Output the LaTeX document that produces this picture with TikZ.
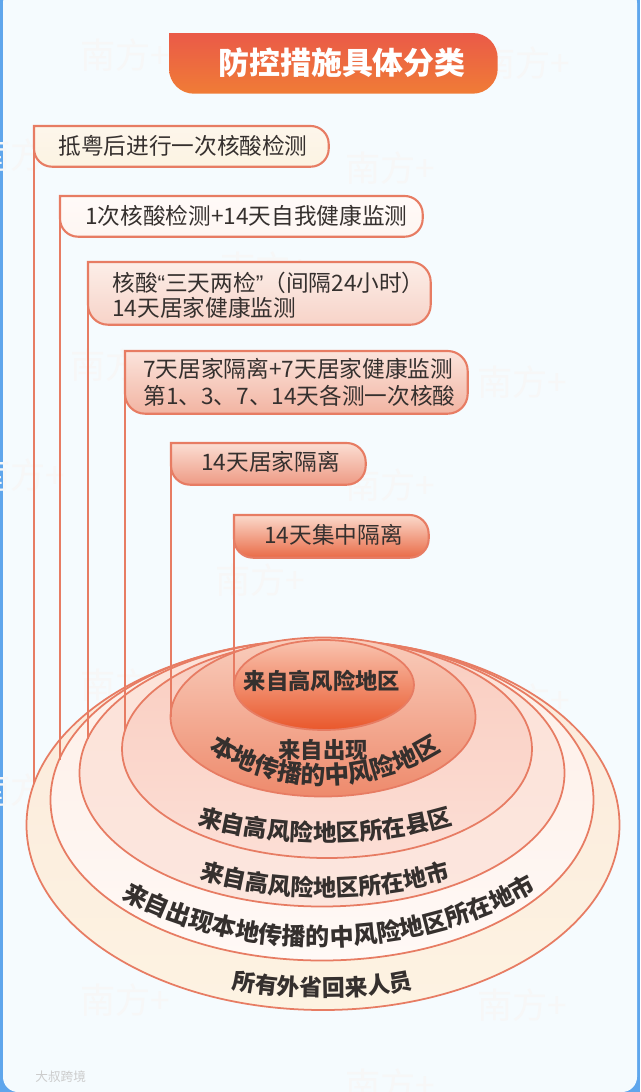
\documentclass[tikz,border=0pt]{standalone}
\usepackage{fontspec}
\setmainfont{Noto Sans CJK SC}
\newfontfamily\quotefont{Liberation Sans}
\usepackage{xcolor}
\usetikzlibrary{shapes.geometric,decorations.text}
\definecolor{pagebg}{HTML}{F5FBFE}
\definecolor{edgeblue}{HTML}{5FA6EC}
\definecolor{linered}{HTML}{E77C63}
\definecolor{inkdark}{HTML}{35302E}
\newcommand{\tagshape}[4]{% node, radius, top colour, bottom colour
  \draw[tagline, top color=#3, bottom color=#4] (#1.north west) [rounded corners=#2*0.02cm] -- (#1.north east) -- (#1.south east) -- (#1.south west) [sharp corners] -- cycle;
}
\begin{document}
\begin{tikzpicture}[x=0.02cm, y=-0.02cm,
  tagbox/.style={rectangle, inner sep=0pt, anchor=north west},
  tagtext/.style={font=\fontsize{12.9}{14.5}\selectfont, text=inkdark, align=left, anchor=west, inner sep=0pt},
  disc/.style={ellipse, draw=linered, line width=1pt, inner sep=0pt},
  tagline/.style={draw=linered, line width=1.2pt},
  edge/.style={draw=linered, line width=0.85pt},
  discword/.style={font=\fontsize{12.7}{14.5}\selectfont\bfseries, text=inkdark, inner sep=0pt},
  bend/.style n args={2}{decorate, decoration={text along path, text align=center, text={|\fontsize{#1}{15}\selectfont\bfseries\color{inkdark}|#2}}},
  faintmark/.style={font=\fontsize{20}{20}\selectfont, text=black!3, inner sep=0pt}
]
\useasboundingbox (0,0) rectangle (640,1092);
\fill[edgeblue] (0,0) rectangle (640,1092);
\fill[pagebg, rounded corners=0.3cm] (3,-12) rectangle (637,1092);
% faint marks behind everything
\foreach \mx/\my in {125/55, 525/63, 20/155, 390/168, 265/268, 115/365, 522/382, 20/475, 390/485, 260/580, 125/685, 525/700, 20/790, 390/795, 125/1000, 522/1005, 390/1085}
  \node[faintmark] (m\mx\my) at (\mx,\my) {南方+};

% discs, outermost first
\node[disc, minimum width=593*0.02cm, minimum height=370*0.02cm, top color={rgb,255:red,251;green,233;blue,219}, bottom color={rgb,255:red,253;green,243;blue,226}] (discA) at (323,825) {};
\node[disc, minimum width=543*0.02cm, minimum height=321*0.02cm, top color={rgb,255:red,253;green,238;blue,230}, bottom color={rgb,255:red,255;green,249;blue,246}] (discB) at (322,800) {};
\node[disc, minimum width=485*0.02cm, minimum height=267*0.02cm, top color={rgb,255:red,252;green,226;blue,216}, bottom color={rgb,255:red,252;green,230;blue,222}] (discC) at (322,773) {};
\node[disc, minimum width=410*0.02cm, minimum height=218*0.02cm, top color={rgb,255:red,249;green,205;blue,192}, bottom color={rgb,255:red,252;green,222;blue,213}] (discD) at (327,749) {};
\node[disc, minimum width=305*0.02cm, minimum height=159*0.02cm, top color={rgb,255:red,249;green,205;blue,188}, bottom color={rgb,255:red,238;green,138;blue,108}] (discE) at (323,717) {};
\node[disc, minimum width=180*0.02cm, minimum height=90*0.02cm, top color={rgb,255:red,249;green,196;blue,176}, bottom color={rgb,255:red,233;green,87;blue,43}] (discF) at (324,685) {};

% tags
\node[tagbox, minimum width=294*0.02cm, minimum height=40*0.02cm] (tagA) at (34,126) {};
\node[tagbox, minimum width=362*0.02cm, minimum height=40*0.02cm] (tagB) at (60,196) {};
\node[tagbox, minimum width=342*0.02cm, minimum height=62*0.02cm] (tagC) at (88,262) {};
\node[tagbox, minimum width=342*0.02cm, minimum height=62*0.02cm] (tagD) at (125,351) {};
\node[tagbox, minimum width=194*0.02cm, minimum height=41*0.02cm] (tagE) at (171,443) {};
\node[tagbox, minimum width=194*0.02cm, minimum height=42*0.02cm] (tagF) at (234,515) {};
\node[tagbox, minimum width=328*0.02cm, minimum height=60*0.02cm] (title) at (169,33) {};

\coordinate (footA) at (34,783);
\coordinate (footB) at (60,760);
\coordinate (footC) at (88,739);
\coordinate (footD) at (125,730);
\coordinate (footE) at (171,717);
\coordinate (footF) at (234,685);
\draw[edge] (tagA.north west) -- (footA);
\draw[edge] (tagB.north west) -- (footB);
\draw[edge] (tagC.north west) -- (footC);
\draw[edge] (tagD.north west) -- (footD);
\draw[edge] (tagE.north west) -- (footE);
\draw[edge] (tagF.north west) -- (footF);

\tagshape{tagA}{18}{{rgb,255:red,253;green,246;blue,235}}{{rgb,255:red,252;green,243;blue,226}}
\tagshape{tagB}{18}{{rgb,255:red,255;green,250;blue,248}}{{rgb,255:red,254;green,246;blue,242}}
\tagshape{tagC}{20}{{rgb,255:red,252;green,238;blue,232}}{{rgb,255:red,247;green,211;blue,200}}
\tagshape{tagD}{20}{{rgb,255:red,251;green,228;blue,220}}{{rgb,255:red,242;green,180;blue,162}}
\tagshape{tagE}{19}{{rgb,255:red,251;green,222;blue,211}}{{rgb,255:red,238;green,154;blue,132}}
\tagshape{tagF}{19}{{rgb,255:red,251;green,218;blue,204}}{{rgb,255:red,233;green,107;blue,71}}
\draw[draw=none, top color={rgb,255:red,234;green,90;blue,72}, bottom color={rgb,255:red,240;green,124;blue,54}] (title.north west) [rounded corners=0.5cm] -- (title.north east) -- (title.south east) -- (title.south west) [sharp corners] -- cycle;

\node[font=\fontsize{17.6}{20}\selectfont\bfseries, text=white, inner sep=0pt] (titleword) at (342,63) {防控措施具体分类};
\node[tagtext] (wordA) at (58,146) {抵粤后进行一次核酸检测};
\node[tagtext] (wordB) at (85,216) {1次核酸检测+14天自我健康监测};
\node[tagtext] (wordC) at (112,295) {核酸{\quotefont “}三天两检{\quotefont ”}（间隔24小时）\\14天居家健康监测};
\node[tagtext] (wordD) at (143,382) {7天居家隔离+7天居家健康监测\\[1pt]第1、3、7、14天各测一次核酸};
\node[tagtext] (wordE) at (201,462) {14天居家隔离};
\node[tagtext] (wordF) at (264,535) {14天集中隔离};

\node[discword] (wordG) at (322,681) {来自高风险地区};
\node[discword] (wordH) at (323,750) {来自出现};
\path[bend={14}{本地传播的中风险地区}] (188,735) .. controls (270,801) and (380,801) .. (462,735);
\path[bend={13.4}{来自高风险地区所在县区}] (185,820) .. controls (270,849) and (380,849) .. (465,820);
\path[bend={13.2}{来自高风险地区所在地市}] (185,874) .. controls (270,904) and (380,904) .. (465,874);
\path[bend={13.7}{来自出现本地传播的中风险地区所在地市}] (108,890) .. controls (230,966) and (420,966) .. (550,882);
\path[bend={13}{所有外省回来人员}] (220,985) .. controls (270,1000) and (380,1000) .. (425,985);

\node[font=\fontsize{7.2}{9}\selectfont, text=black!20, inner sep=0pt, anchor=west] (stamp) at (35,1077) {大叔跨境};
\end{tikzpicture}
\end{document}
